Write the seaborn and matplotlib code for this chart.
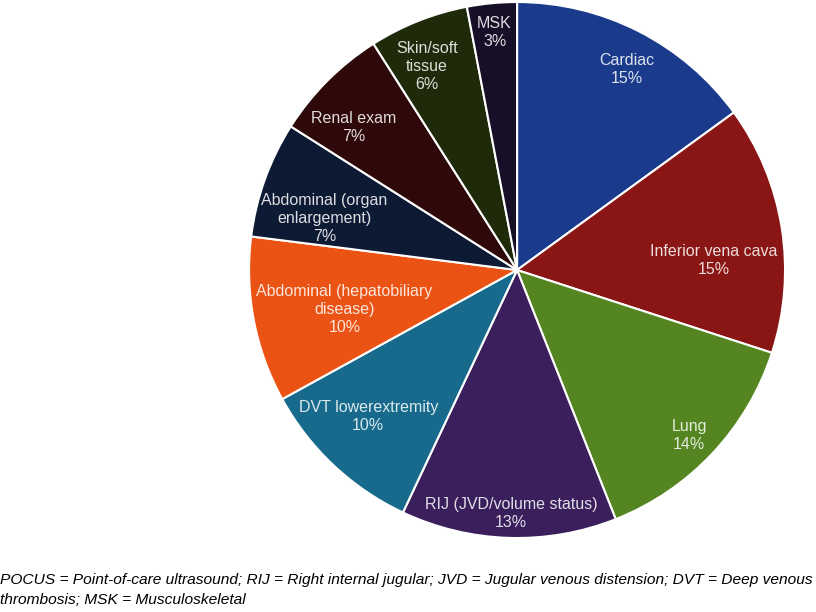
import numpy as np
import matplotlib
matplotlib.use("Agg")
import matplotlib.pyplot as plt
import seaborn as sns

# POCUS exam types, share of exams (%)
categories = ["Cardiac", "Inferior vena cava", "Lung", "RIJ (JVD/volume status)",
              "DVT lowerextremity", "Abdominal (hepatobiliary\ndisease)",
              "Abdominal (organ\nenlargement)", "Renal exam", "Skin/soft\ntissue", "MSK"]
shares = [15, 15, 14, 13, 10, 10, 7, 7, 6, 3]
hex_colors = ["#1a3b8b", "#8a1515", "#548520", "#3a1f5c", "#176a8c",
              "#ea5313", "#0d1a34", "#2f0909", "#1e2a09", "#160f27"]
# label placement inside each wedge (like Excel's best fit):
# distance as fraction of radius, and a small angle nudge in degrees
label_dist = [0.855, 0.735, 0.89, 0.91, 0.78, 0.66, 0.745, 0.81, 0.83, 0.89]
label_nudge = [-1.7, -6.1, -0.6, 0.4, -2.2, 2.0, 4.7, 3.9, 2.3, 0.0]

footnote = ("POCUS = Point-of-care ultrasound; RIJ = Right internal jugular; JVD = Jugular venous "
            "distension; DVT = Deep venous\nthrombosis; MSK = Musculoskeletal")

sns.set_theme(style="white")
plt.rcParams['font.family'] = ['Liberation Sans', 'DejaVu Sans']
palette = sns.color_palette(hex_colors)

fig = plt.figure(figsize=(8.16, 6.12), dpi=100)
ax = fig.add_axes([0.3052, 0.1209, 0.6569, 0.8758])

wedges, _ = ax.pie(shares, colors=palette, startangle=90, counterclock=False, radius=1,
                   wedgeprops=dict(edgecolor="white", linewidth=1.5))

# place "name / pct" in each wedge
for w, cat, v, d, nudge, col in zip(wedges, categories, shares, label_dist, label_nudge, palette):
    ang = np.deg2rad((w.theta1 + w.theta2) / 2 + nudge)
    rgb = np.array(col)
    ax.text(d * np.cos(ang), d * np.sin(ang), f"{cat}\n{v}%", ha="center", va="center",
            fontsize=11.5, linespacing=1.25, color=tuple(0.85 + 0.15 * rgb))

ax.set_xlim(-1, 1)
ax.set_ylim(-1, 1)
ax.set_aspect("equal")
ax.axis("off")

fig.text(0.0, 0.064, footnote, ha="left", va="top", fontsize=11.15, style="italic",
         family=['Liberation Sans Narrow', 'Liberation Sans', 'DejaVu Sans'],
         linespacing=1.6, color="black")

fig.savefig("out.png", dpi=100, facecolor="white")
